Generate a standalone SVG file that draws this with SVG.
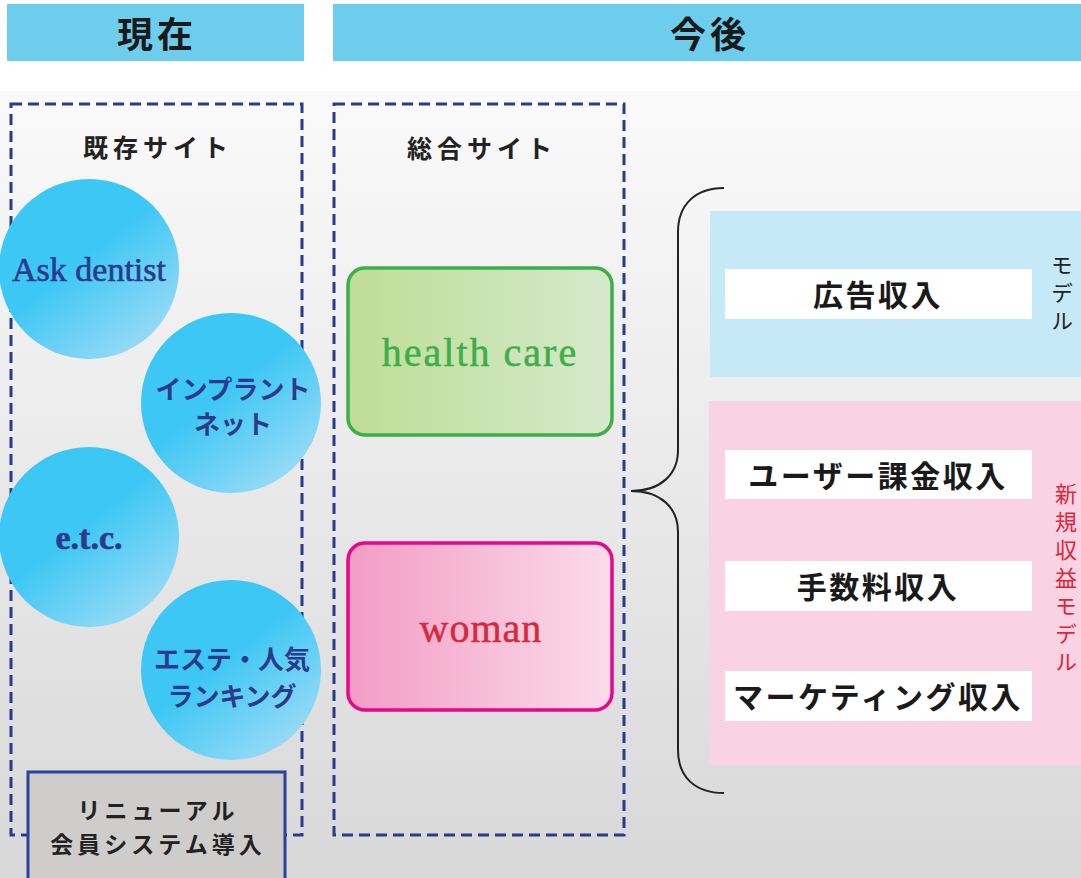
<svg xmlns="http://www.w3.org/2000/svg" width="1081" height="878" viewBox="0 0 1081 878">
<defs>
<linearGradient id="bg" x1="0" y1="0" x2="0" y2="1">
<stop offset="0" stop-color="#fafafa"/>
<stop offset="1" stop-color="#d8d8d8"/>
</linearGradient>
<linearGradient id="cir" x1="0.35" y1="0.3" x2="0.9" y2="1">
<stop offset="0.2" stop-color="#3dc7f4"/>
<stop offset="1" stop-color="#a9def7"/>
</linearGradient>
<linearGradient id="grn" x1="0" y1="0" x2="1" y2="0">
<stop offset="0" stop-color="#bedd96"/>
<stop offset="1" stop-color="#d5e9cb"/>
</linearGradient>
<linearGradient id="pnk" x1="0" y1="0" x2="1" y2="0">
<stop offset="0" stop-color="#f29cc5"/>
<stop offset="1" stop-color="#fbdce9"/>
</linearGradient>
</defs>
<style>
.hdr{fill:#6ecdec}
.ht{font-family:"Noto Sans CJK JP",sans-serif;font-weight:700;font-size:36px;fill:#1a1a1a;text-anchor:middle;letter-spacing:4px}
.dash{fill:none;stroke:#253d8d;stroke-width:3;stroke-dasharray:11 6}
.st{font-family:"Noto Sans CJK JP",sans-serif;font-weight:700;font-size:25px;fill:#222;text-anchor:middle;letter-spacing:5px}
.c{fill:url(#cir)}
.ce{font-family:"Liberation Serif",serif;font-size:34px;fill:#2b3a8b;stroke:#2b3a8b;stroke-width:0.6;text-anchor:middle}
.cj{font-family:"Noto Sans CJK JP",sans-serif;font-weight:700;font-size:26px;fill:#2b3a8b;text-anchor:middle}
.bt{font-family:"Noto Sans CJK JP",sans-serif;font-weight:700;font-size:23px;fill:#222;text-anchor:middle;letter-spacing:4px}
.wb{fill:#ffffff}
.rt{font-family:"Noto Sans CJK JP",sans-serif;font-weight:700;font-size:30px;fill:#1a1a1a;text-anchor:middle;letter-spacing:2.5px}
.vt{font-family:"Noto Sans CJK JP",sans-serif;font-size:22px;writing-mode:vertical-rl;text-orientation:upright}
</style>
<rect x="0" y="0" width="1081" height="878" fill="#ffffff"/>
<rect x="0" y="91" width="1081" height="787" fill="url(#bg)"/>

<g id="header-now">
<rect class="hdr" x="7" y="4" width="297" height="57"/>
<text class="ht" x="157" y="48">現在</text>
</g>
<g id="header-future">
<rect class="hdr" x="333" y="4" width="748" height="57"/>
<text class="ht" x="710" y="48">今後</text>
</g>

<g id="existing-sites">
<rect class="dash" x="11" y="104" width="291" height="731"/>
<text class="st" x="158" y="157">既存サイト</text>
</g>

<g id="circle-ask">
<circle class="c" cx="89" cy="269" r="90"/>
<text class="ce" x="89" y="281">Ask dentist</text>
</g>
<g id="circle-implant">
<circle class="c" cx="231" cy="403" r="90"/>
<text class="cj"><tspan x="233" y="399">インプラント</tspan><tspan x="233" y="434">ネット</tspan></text>
</g>
<g id="circle-etc">
<circle class="c" cx="89" cy="537" r="90"/>
<text class="ce" x="89" y="549" font-weight="700" font-size="27" stroke-width="0">e.t.c.</text>
</g>
<g id="circle-este">
<circle class="c" cx="231" cy="670" r="90"/>
<text class="cj"><tspan x="232" y="669">エステ・人気</tspan><tspan x="232" y="706">ランキング</tspan></text>
</g>

<g id="renewal">
<rect x="28" y="772" width="257" height="120" fill="#cfcccc" stroke="#27449a" stroke-width="3"/>
<text class="bt"><tspan x="158" y="819">リニューアル</tspan><tspan x="158" y="853">会員システム導入</tspan></text>
</g>

<g id="general-site">
<rect class="dash" x="334" y="104" width="290" height="731"/>
<text class="st" x="482" y="158">総合サイト</text>
</g>

<g id="health-care">
<rect x="348" y="268" width="264" height="167" rx="17" fill="url(#grn)" stroke="#3dae49" stroke-width="3.5"/>
<text x="480" y="366" font-family="Liberation Serif, serif" font-size="40" letter-spacing="2" fill="#3dae49" stroke="#3dae49" stroke-width="0.5" text-anchor="middle">health care</text>
</g>
<g id="woman">
<rect x="348" y="543" width="264" height="167" rx="17" fill="url(#pnk)" stroke="#e8068a" stroke-width="3.5"/>
<text x="481" y="642" font-family="Liberation Serif, serif" font-size="40" letter-spacing="1" fill="#d42a3d" stroke="#d42a3d" stroke-width="0.5" text-anchor="middle">woman</text>
</g>

<g id="connectors">
<path d="M724,188 C695,188 678,205 678,232 L678,450 C678,475 660,491 631,491 C660,491 678,507 678,532 L678,750 C678,777 695,793 724,793" fill="none" stroke="#222" stroke-width="2"/>
</g>

<g id="ad-model">
<rect x="710" y="211" width="371" height="166" fill="#c6e9f8"/>
<rect class="wb" x="725" y="269" width="307" height="50"/>
<text class="rt" x="878" y="306">広告収入</text>
<text class="vt" x="1062" y="254" fill="#222" letter-spacing="6">モデル</text>
</g>

<g id="new-model">
<rect x="709" y="401" width="372" height="364" fill="#f9d3e4"/>
<rect class="wb" x="725" y="450" width="307" height="49"/>
<text class="rt" x="878" y="487">ユーザー課金収入</text>
<rect class="wb" x="725" y="561" width="307" height="50"/>
<text class="rt" x="878" y="598">手数料収入</text>
<rect class="wb" x="725" y="671" width="307" height="50"/>
<text class="rt" x="878" y="708">マーケティング収入</text>
<text class="vt" x="1066" y="483" fill="#d8283c" letter-spacing="6">新規収益モデル</text>
</g>
</svg>
